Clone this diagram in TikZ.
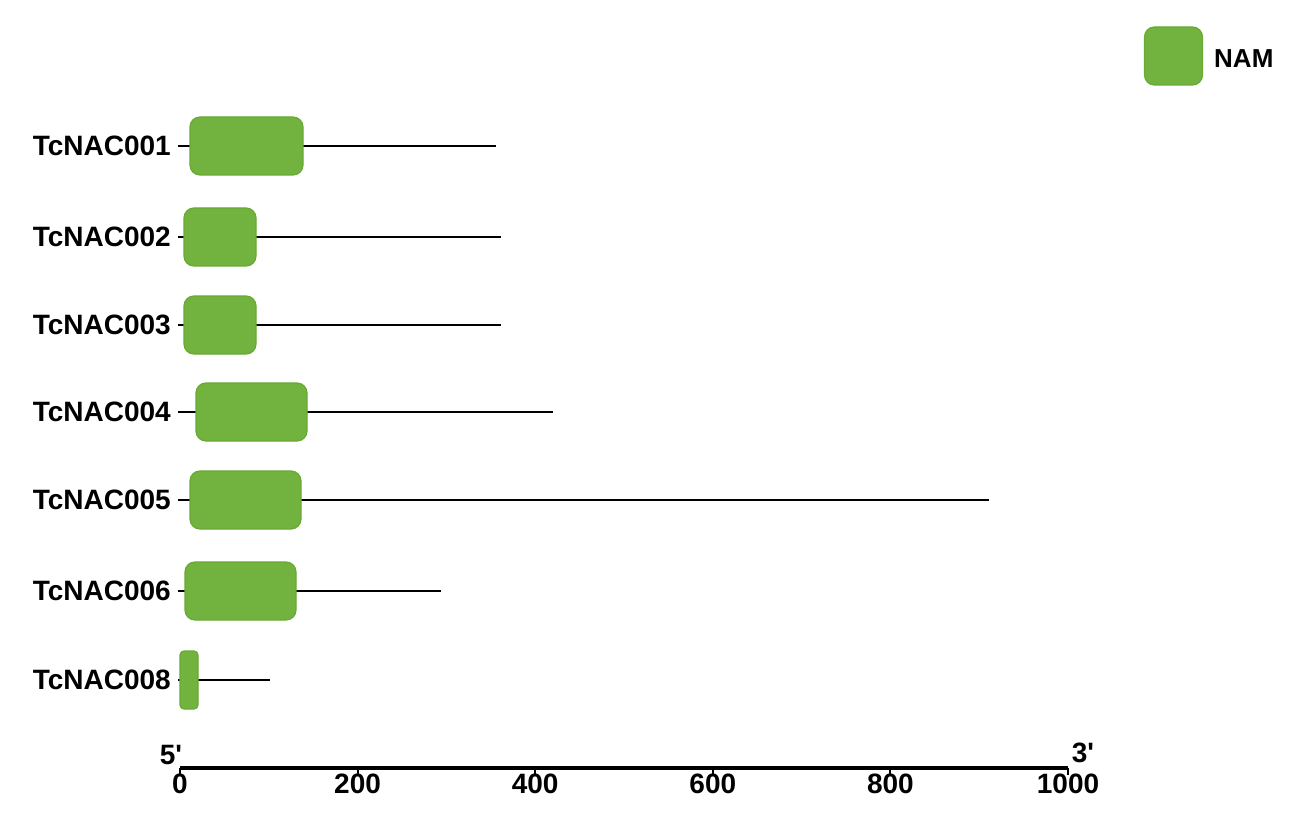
\documentclass[tikz,border=0pt]{standalone}
\usepackage{fontspec}
\setmainfont{Liberation Sans}
\definecolor{namfill}{RGB}{114,178,62}
\definecolor{namedge}{RGB}{104,170,52}
\begin{document}
\begin{tikzpicture}[x=1pt,y=-1pt,
  lbl/.style={anchor=east,inner xsep=7pt,inner ysep=0pt,font=\fontsize{28}{34}\selectfont\bfseries},
  dom/.style={draw=namedge,fill=namfill,line width=1.2pt,rounded corners=10pt,inner sep=0pt},
  conn/.style={line width=2.8pt,black},
  axnum/.style={font=\fontsize{28}{32}\selectfont\bfseries,inner sep=0pt}]
\useasboundingbox[fill=white] (0,0) rectangle (1299,821);
% rows: name, y, line end, box left, box right, corner radius
\foreach \n/\y/\e/\a/\b/\r in {001/146/496/190/303/10, 002/237/501/184/256/10, 003/325/501/184/256/10,
  004/412/553/196/307/10, 005/500/989/190/301/10, 006/591/441/185/296/10, 008/680/270/180/198/4}{
  \node[lbl] (l\n) at (178,\y) {TcNAC\n};
  \coordinate (e\n) at (\e,\y);
  \draw[conn] (l\n.east) -- (e\n);
  \pgfmathsetmacro{\w}{\b-\a}
  \pgfmathsetmacro{\c}{(\a+\b)/2}
  \node[dom,rounded corners=\r pt,minimum width=\w pt,minimum height=58pt] (d\n) at (\c,\y) {};
}
% legend
\node[dom,minimum width=58pt,minimum height=58pt] (leg) at (1173.5,56) {};
\node[anchor=west,inner sep=0pt,font=\fontsize{26}{32}\selectfont\bfseries] (legt) at (1214,59) {NAM};
% axis
\coordinate (a0) at (180,768);
\coordinate (a1) at (1068,768);
\draw[line width=3.2pt] (a0) -- (a1);
\foreach \v in {0,200,400,600,800,1000}{
  \pgfmathsetmacro{\px}{180+\v*0.888}
  \draw[line width=2pt] (\px,768) -- (\px,775);
  \node[axnum] (t\v) at (\px,784) {\v};
}
\node[axnum] (p5) at (171,755) {5\textquotesingle};
\node[axnum] (p3) at (1083,753) {3\textquotesingle};
\end{tikzpicture}
\end{document}
